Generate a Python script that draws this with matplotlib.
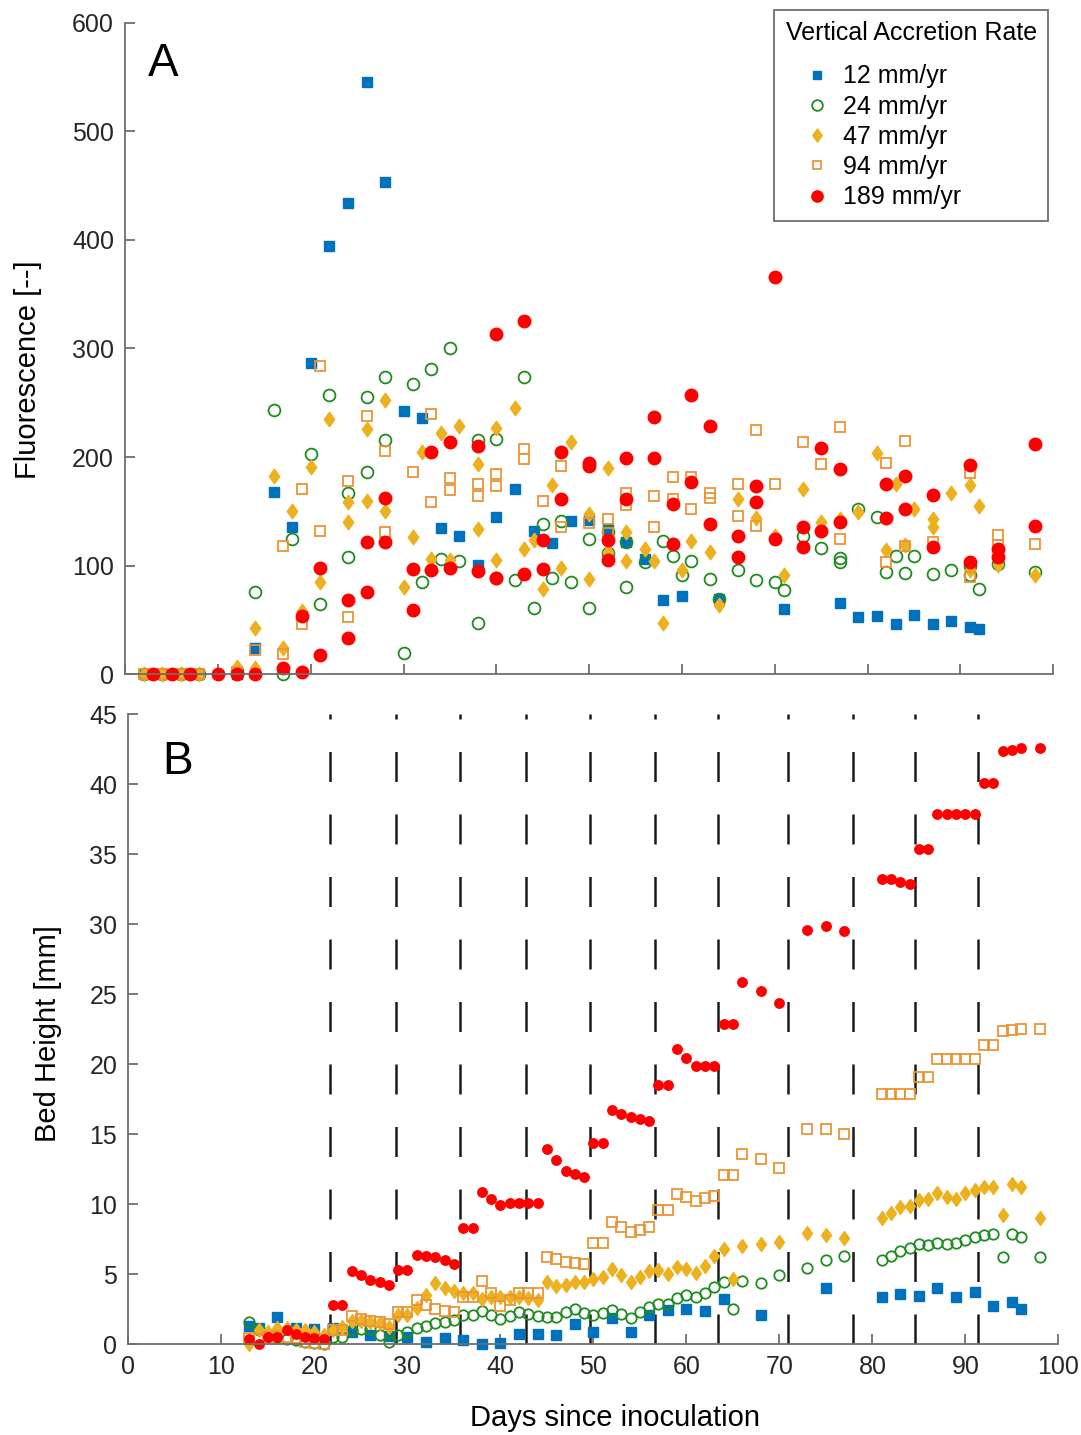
import numpy as np
import matplotlib.pyplot as plt
from matplotlib.path import Path

plt.rcParams['font.family'] = ['Liberation Sans', 'DejaVu Sans']

# ---------------- panel A: fluorescence ----------------
fl_day_12 = [2, 4, 6, 8, 12, 14, 16, 18, 20, 22, 24, 26, 28, 30, 32, 34, 36, 38, 40, 42,
             44, 46, 48, 50, 52, 54, 56, 58, 60, 64, 71, 77, 79, 81, 83, 85, 87, 89, 91, 92]
fl_val_12 = [0, 0, 0, 0, 0, 24, 168, 136, 287, 394, 434, 545, 453, 242, 236, 135, 127, 101, 145, 171,
             132, 121, 141, 142, 134, 122, 106, 68, 72, 69, 60, 66, 53, 54, 46, 55, 46, 49, 44, 42]

fl_day_24 = [2, 4, 6, 8, 12, 14, 16, 17, 18, 20, 21, 22, 24, 24, 26, 26, 28, 28,
             30, 31, 32, 33, 34, 35, 36, 38, 38, 40, 40, 42, 43, 44, 45, 46, 47, 48,
             50, 50, 52, 52, 54, 54, 56, 58, 59, 60, 61, 63, 64, 66, 68, 70, 71,
             73, 75, 77, 77, 79, 81, 82, 83, 84, 85, 87, 89, 91, 91, 92, 94, 98]
fl_val_24 = [0, 0, 0, 0, 3, 76, 243, 0, 125, 203, 65, 257, 108, 167, 255, 186, 274, 216,
             20, 267, 85, 281, 106, 300, 104, 216, 47, 217, 89, 87, 274, 61, 138, 89, 141, 85,
             125, 61, 131, 112, 80, 122, 103, 123, 109, 91, 104, 88, 69, 96, 87, 85, 78,
             127, 116, 107, 103, 152, 145, 94, 109, 93, 109, 92, 96, 100, 91, 79, 102, 94]

fl_day_47 = [2, 4, 6, 8, 12, 14, 14, 16, 17, 18, 19, 20, 21, 22, 24, 24, 26, 26, 28, 28,
             30, 31, 32, 33, 34, 35, 36, 38, 38, 40, 40, 42, 43, 44, 45, 46, 47, 48,
             50, 50, 52, 52, 54, 54, 56, 57, 58, 60, 61, 63, 64, 66, 68, 70, 71,
             73, 75, 77, 79, 81, 82, 83, 84, 85, 87, 87, 89, 91, 91, 92, 94, 98]
fl_val_47 = [0, 0, 0, 0, 7, 6, 43, 183, 24, 150, 58, 191, 85, 235, 140, 159, 226, 160, 253, 150,
             80, 126, 205, 106, 222, 105, 229, 194, 134, 227, 105, 245, 115, 124, 79, 174, 98, 214,
             148, 88, 190, 113, 131, 104, 115, 104, 47, 96, 123, 113, 64, 161, 144, 127, 91,
             171, 140, 143, 149, 204, 114, 175, 119, 152, 143, 136, 167, 174, 96, 155, 101, 91]

fl_day_94 = [2, 4, 6, 8, 12, 14, 17, 17, 19, 19, 21, 21, 24, 24, 26, 28, 28,
             31, 33, 33, 35, 35, 38, 38, 40, 40, 43, 43, 45, 47, 47,
             50, 52, 52, 54, 54, 57, 57, 59, 59, 61, 61, 63, 63, 66, 66, 68, 68, 70,
             73, 75, 77, 77, 82, 82, 84, 84, 87, 91, 91, 94, 94, 98]
fl_val_94 = [0, 0, 0, 0, 2, 22, 19, 118, 46, 171, 284, 132, 53, 178, 238, 206, 131,
             186, 240, 159, 181, 170, 175, 164, 184, 173, 207, 198, 160, 192, 136,
             139, 143, 130, 167, 156, 164, 136, 182, 161, 182, 152, 167, 162, 175, 146, 225, 137, 175,
             214, 194, 228, 125, 195, 103, 215, 118, 122, 185, 90, 128, 119, 120]

fl_day_189 = [3, 5, 7, 10, 12, 14, 17, 19, 19, 21, 21, 24, 24, 26, 26, 28, 28,
              31, 31, 33, 33, 35, 35, 38, 38, 40, 40, 43, 43, 45, 45, 47, 47,
              50, 50, 52, 52, 54, 54, 57, 57, 59, 59, 61, 61, 63, 63,
              66, 66, 68, 68, 70, 70, 73, 73, 75, 75, 77, 77,
              82, 82, 84, 84, 87, 87, 91, 91, 94, 94, 98, 98]
fl_val_189 = [0, 0, 0, 0, 0, 0, 6, 2, 54, 18, 98, 33, 68, 76, 122, 122, 162,
              59, 97, 96, 205, 98, 214, 95, 210, 89, 313, 92, 325, 97, 124, 205, 161,
              195, 192, 124, 105, 199, 161, 237, 199, 157, 120, 257, 177, 229, 138,
              127, 108, 173, 159, 125, 366, 136, 117, 208, 132, 189, 140,
              175, 144, 183, 152, 165, 117, 193, 103, 115, 108, 212, 137]

# ---------------- panel B: bed height ----------------
bed_day = list(range(13, 67)) + [68, 70, 73, 75, 77] + list(range(81, 97)) + [98]

bed_189 = [0.4, 0.0, 0.5, 0.5, 1.0, 0.74, 0.55, 0.45, 0.38, 2.8,
           2.8, 5.26, 4.93, 4.59, 4.43, 4.26, 5.31, 5.31, 6.38, 6.33,
           6.26, 6.0, 5.76, 8.33, 8.33, 10.86, 10.41, 9.98, 10.07, 10.1,
           10.1, 10.1, 13.97, 13.16, 12.36, 12.17, 11.98, 14.36, 14.36, 16.71,
           16.47, 16.24, 16.09, 15.97, 18.54, 18.54, 21.11, 20.47, 19.86, 19.86,
           19.86, 22.88, 22.88, 25.86,
           25.24, 24.36, 29.61, 29.86, 29.5,
           33.24, 33.24, 33.04, 32.88, 35.36, 35.36, 37.86, 37.86, 37.86, 37.86,
           37.86, 40.09, 40.09, 42.36, 42.47, 42.59,
           42.59]

bed_94 = [0.47, 0.4, 0.5, 0.6, 0.55, 0.45, 0.2, 0.1, 0.05, 1.02,
          1.02, 2.02, 1.83, 1.69, 1.57, 1.45, 2.29, 2.29, 3.14, 2.8,
          2.5, 2.4, 2.29, 3.38, 3.38, 4.5, 3.64, 2.74, 3.17, 3.64,
          3.64, 3.64, 6.26, 6.07, 5.88, 5.81, 5.74, 7.26, 7.26, 8.74,
          8.4, 8.0, 8.17, 8.38, 9.57, 9.57, 10.76, 10.5, 10.26, 10.43,
          10.62, 12.12, 12.12, 13.62,
          13.24, 12.62, 15.36, 15.36, 15.0,
          17.86, 17.86, 17.86, 17.86, 19.12, 19.12, 20.36, 20.36, 20.36, 20.36,
          20.36, 21.36, 21.36, 22.36, 22.43, 22.5,
          22.5]

bed_47 = [0.0, 1.0, 0.9, 1.2, 1.2, 1.0, 1.0, 0.9, 0.7, 1.0,
          1.26, 1.7, 1.69, 1.6, 1.5, 1.26, 2.1, 2.1, 2.6, 3.52,
          4.4, 4.0, 3.83, 3.64, 3.64, 3.24, 3.4, 3.4, 3.4, 3.4,
          3.29, 3.17, 4.43, 4.17, 4.24, 4.48, 4.43, 4.67, 4.83, 5.38,
          4.95, 4.48, 4.83, 5.26, 5.31, 5.02, 5.55, 5.38, 5.12, 5.62,
          6.33, 6.81, 4.67, 7.0,
          7.14, 7.31, 7.95, 7.79, 7.57,
          9.0, 9.36, 9.81, 9.88, 10.31, 10.36, 10.83, 10.55, 10.38, 10.79,
          11.02, 11.26, 11.26, 9.24, 11.45, 11.21,
          9.0]

bed_24 = [1.57, 1.02, 0.74, 0.5, 0.4, 0.3, 0.2, 0.1, 0.0, 0.5,
          0.5, 1.0, 1.12, 1.07, 0.7, 0.17, 0.67, 0.9, 1.14, 1.31,
          1.5, 1.62, 1.74, 2.07, 2.07, 2.4, 2.09, 1.83, 2.05, 2.29,
          2.14, 2.05, 1.98, 1.98, 2.29, 2.5, 2.25, 2.1, 2.21, 2.45,
          2.14, 1.9, 2.33, 2.69, 2.86, 2.88, 3.33, 3.52, 3.4, 3.69,
          4.1, 4.43, 2.52, 4.5,
          4.4, 4.93, 5.43, 6.02, 6.31,
          6.02, 6.31, 6.69, 6.9, 7.14, 7.1, 7.26, 7.17, 7.21, 7.45,
          7.64, 7.81, 7.86, 6.26, 7.88, 7.64,
          6.26]

bed_day_12 = [13, 14, 16, 18, 20, 22, 24, 26, 28, 30, 32, 34, 36, 38, 40, 42, 44, 46, 48,
              50, 52, 54, 56, 58, 60, 62, 64, 68, 75, 81, 83, 85, 87, 89, 91, 93, 95, 96]
bed_12 = [1.3, 1.14, 1.97, 1.2, 1.1, 1.2, 0.9, 0.7, 0.62, 0.52, 0.17, 0.48, 0.29, 0.0, 0.1, 0.74, 0.74, 0.67, 1.43,
          0.88, 1.86, 0.88, 2.1, 2.45, 2.5, 2.38, 3.24, 2.1, 4.0, 3.36, 3.57, 3.48, 4.0, 3.36, 3.74, 2.74, 3.0, 2.5]

# burial events (dashed lines)
burial_days = [21.7, 28.8, 35.7, 42.7, 49.6, 56.6, 63.4, 70.9, 77.9, 84.6, 91.4]

labels = ['12 mm/yr', '24 mm/yr', '47 mm/yr', '94 mm/yr', '189 mm/yr']

# MATLAB-like diamond (taller than wide)
diamond = Path([(0, 1), (0.72, 0), (0, -1), (-0.72, 0), (0, 1)],
               [Path.MOVETO, Path.LINETO, Path.LINETO, Path.LINETO, Path.CLOSEPOLY])

BLUE = '#0072BD'
GREEN = '#1E8C1E'
YELLOW = '#EDB120'
ORANGE = '#EA9435'
RED = '#FF0000'
SPINE = '#6e6e6e'
TXT = '#262626'

fig = plt.figure(figsize=(10.81, 14.35), dpi=100)
ax1 = fig.add_axes([125.2 / 1081, 1 - 674.3 / 1435, 928.1 / 1081, 651.6 / 1435])
ax2 = fig.add_axes([128.4 / 1081, 1 - 1344.3 / 1435, 930 / 1081, 630 / 1435])

# panel A
ax1.plot(fl_day_12, fl_val_12, 's', color=BLUE, ms=6.5, mec=BLUE, ls='none', clip_on=False, label=labels[0])
ax1.plot(fl_day_24, fl_val_24, 'o', mfc='none', mec=GREEN, mew=1.3, ms=8.5, ls='none', clip_on=False, label=labels[1])
ax1.plot(fl_day_47, fl_val_47, marker=diamond, color=YELLOW, ms=10.5, ls='none', clip_on=False, label=labels[2])
ax1.plot(fl_day_94, fl_val_94, 's', mfc='none', mec=ORANGE, mew=1.3, ms=6.5, ls='none', clip_on=False, label=labels[3])
ax1.plot(fl_day_189, fl_val_189, 'o', color=RED, ms=9, ls='none', clip_on=False, label=labels[4])

# panel B
for d in burial_days:
    ax2.plot([d, d], [0, 45], color='#1a1a1a', lw=1.8, ls=(0, (12, 13)), zorder=1)
ax2.plot(bed_day_12, bed_12, 's', color=BLUE, ms=6.5, ls='none', clip_on=False, zorder=2)
ax2.plot(bed_day, bed_24, 'o', mfc='none', mec=GREEN, mew=1.3, ms=7.5, ls='none', clip_on=False, zorder=2)
ax2.plot(bed_day, bed_47, marker=diamond, color=YELLOW, ms=10, ls='none', clip_on=False, zorder=2)
ax2.plot(bed_day, bed_94, 's', mfc='none', mec=ORANGE, mew=1.3, ms=6.5, ls='none', clip_on=False, zorder=2)
ax2.plot(bed_day, bed_189, 'o', color=RED, ms=6.8, ls='none', clip_on=False, zorder=2)

for ax in (ax1, ax2):
    ax.set_xlim(0, 100)
    ax.set_xticks(np.arange(0, 101, 10))
    ax.spines['top'].set_visible(False)
    ax.spines['right'].set_visible(False)
    for s in ('left', 'bottom'):
        ax.spines[s].set_color(SPINE)
        ax.spines[s].set_linewidth(1.3)
    ax.tick_params(direction='in', length=7, width=1.3, color=SPINE,
                   labelsize=18, labelcolor=TXT, pad=8)

ax1.set_ylim(0, 600)
ax1.set_yticks(np.arange(0, 601, 100))
ax1.tick_params(axis='x', labelbottom=False)

ax2.set_ylim(0, 45)
ax2.set_yticks(np.arange(0, 46, 5))

fig.text(28 / 1081, 1 - 370 / 1435, 'Fluorescence [--]', rotation=90, ha='center', va='center',
         fontsize=21, color='black')
fig.text(48 / 1081, 1 - 1034 / 1435, 'Bed Height [mm]', rotation=90, ha='center', va='center',
         fontsize=21, color='black')
fig.text(615 / 1081, 1 - 1418 / 1435, 'Days since inoculation', ha='center', va='center',
         fontsize=21, color='black')
fig.text(163 / 1081, 1 - 64 / 1435, 'A', ha='center', va='center', fontsize=33)
fig.text(178 / 1081, 1 - 762 / 1435, 'B', ha='center', va='center', fontsize=33)

leg = ax1.legend(loc='upper right', bbox_to_anchor=(1048 / 1081, 1 - 10 / 1435),
                 bbox_transform=fig.transFigure, borderaxespad=0, fontsize=18,
                 title='Vertical Accretion Rate\n', title_fontsize=18, markerscale=0.9,
                 handlelength=2.5, handletextpad=-0.2, labelspacing=0.25, alignment='left',
                 fancybox=False, framealpha=1, edgecolor=SPINE, borderpad=0.45)
leg.get_title().set_linespacing(0.42)
leg.get_frame().set_linewidth(1.3)

fig.savefig('out.png', dpi=100)
